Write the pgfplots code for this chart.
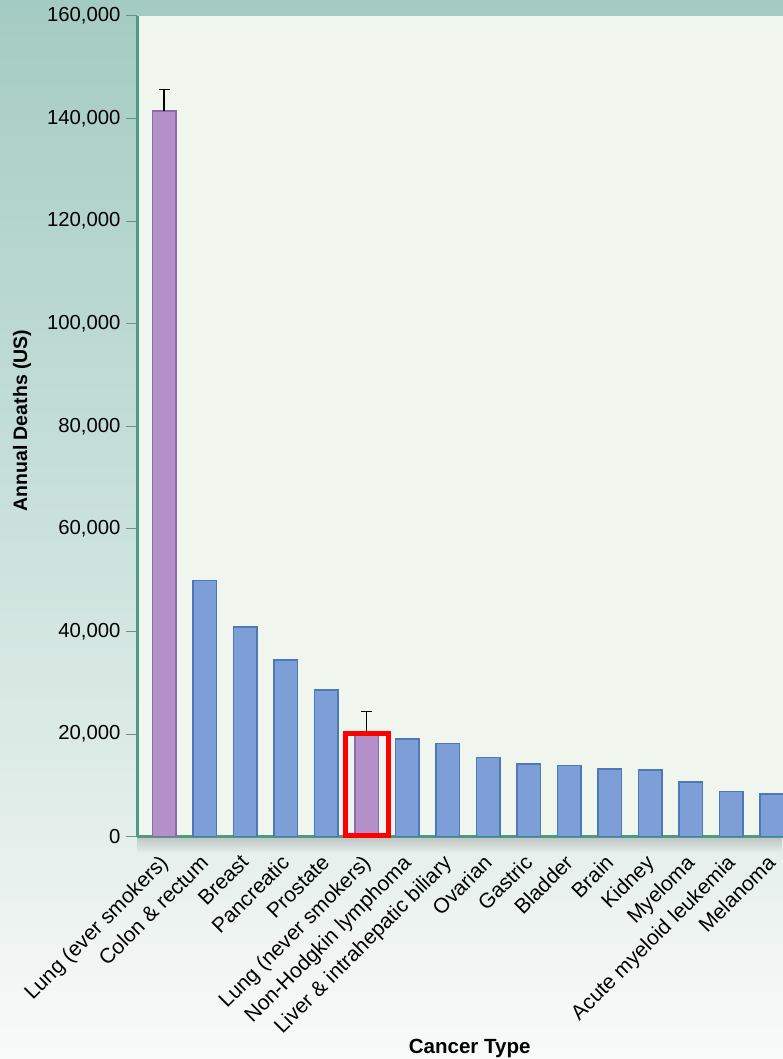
\documentclass[border=0pt]{standalone}
\usepackage{pgfplots}
\pgfplotsset{compat=1.18}
\usepackage{fontspec}
\setmainfont{Liberation Sans}
\usetikzlibrary{fadings}

\definecolor{bgA}{HTML}{F7FAF9}
\definecolor{bgB}{HTML}{F0F5F3}
\definecolor{bgC}{HTML}{E3EEEA}
\definecolor{bgD}{HTML}{C2DDD6}
\definecolor{bgE}{HTML}{A4CBC3}
\definecolor{plotbg}{HTML}{F0F5EE}
\definecolor{axisgreen}{HTML}{4F9A82}
\definecolor{tickgray}{HTML}{6E8E86}
\definecolor{purplefill}{HTML}{B391C8}
\definecolor{purpleedge}{HTML}{8C6AAC}
\definecolor{bluefill}{HTML}{7D9ED6}
\definecolor{blueedge}{HTML}{4D79B8}

\pgfdeclareverticalshading{bgshade}{100bp}{color(0bp)=(bgA); color(25bp)=(bgA); color(30bp)=(bgB); color(36bp)=(bgC); color(55bp)=(bgD); color(75bp)=(bgE); color(100bp)=(bgE)}

\begin{document}
\begin{tikzpicture}[x=1pt,y=1pt]
\useasboundingbox (0,0) rectangle (783,1059);
\shade[shading=bgshade] (0,0) rectangle (783,1059);
\fill[black!60, path fading=south, opacity=0.3] (137,206) rectangle (783,222.3);
\begin{axis}[
  at={(137pt,222.3pt)}, anchor=south west,
  scale only axis, width=646pt, height=820.7pt,
  xmin=-0.667, xmax=15.28, ymin=0, ymax=160000,
  axis background/.style={fill=plotbg},
  axis x line*=bottom, axis y line*=left,
  axis line style={draw=axisgreen, line width=3pt},
  ytick={0,20000,40000,60000,80000,100000,120000,140000,160000},
  scaled y ticks=false,
  /pgf/number format/.cd, fixed, 1000 sep={,}, assume math mode=true, /pgfplots/.cd,
  tick align=outside, major tick length=11pt,
  ytick style={draw=tickgray, line width=1pt},
  xtick style={draw=none},
  xtick={0,...,15},
  xticklabels={Lung (ever smokers), Colon \& rectum, Breast, Pancreatic, Prostate, Lung (never smokers), Non-Hodgkin lymphoma, Liver \& intrahepatic biliary, Ovarian, Gastric, Bladder, Brain, Kidney, Myeloma, Acute myeloid leukemia, Melanoma},
  xticklabel style={rotate=45, anchor=north east, font=\fontsize{21}{25}\selectfont, inner sep=2pt, xshift=-6pt, yshift=2pt},
  yticklabel style={font=\fontsize{20.3}{24}\selectfont, xshift=-2pt},
  ylabel={Annual Deaths (US)},
  ylabel style={font=\bfseries\fontsize{19.5}{23}\selectfont, at={(axis description cs:-0.178,0.507)}, anchor=center},
  xlabel={Cancer Type},
  xlabel style={font=\bfseries\fontsize{20.5}{24}\selectfont, at={(axis description cs:0.515,-0.258)}, anchor=center},
  ybar, bar width=23.5pt, bar shift=0pt,
  clip=false,
]
\addplot[fill=bluefill, draw=blueedge, line width=1.5pt] coordinates {
  (1,49900) (2,40900) (3,34400) (4,28600) (6,19000) (7,18200) (8,15400)
  (9,14200) (10,13900) (11,13200) (12,13000) (13,10700) (14,8800) (15,8300)
};
\addplot[fill=purplefill, draw=purpleedge, line width=1.5pt,
  error bars/.cd, y dir=plus, y explicit,
  error bar style={black, line width=1.5pt},
  error mark options={rotate=90, mark size=5.5pt, line width=1.5pt, black}]
  coordinates {
  (0,141500) +- (0,4200)
  (5,20000) +- (0,4400)
};
\draw[red, line width=5.5pt] (axis cs:4.48,230) rectangle (axis cs:5.54,20100);
\end{axis}
\end{tikzpicture}
\end{document}
